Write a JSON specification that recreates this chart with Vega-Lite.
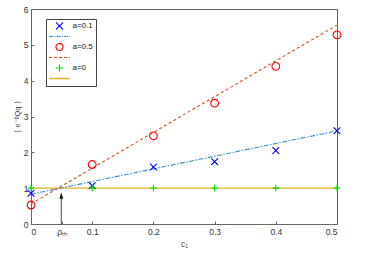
{
  "$schema": "https://vega.github.io/schema/vega-lite/v6.json",
  "width": 306,
  "height": 215,
  "autosize": "none",
  "padding": {"left": 31, "top": 9, "right": 33, "bottom": 43},
  "background": "white",
  "config": {
    "view": {"stroke": "#666"},
    "axis": {
      "grid": false,
      "domainColor": "#666",
      "tickColor": "#666",
      "tickSize": -3,
      "labelColor": "#333",
      "labelFont": "Liberation Sans",
      "labelFontSize": 8.5,
      "titleFont": "Liberation Sans",
      "titleFontSize": 8.5,
      "titleFontWeight": "normal",
      "titleColor": "#444"
    },
    "legend": {
      "labelFont": "Liberation Sans",
      "labelFontSize": 8,
      "labelColor": "#222"
    }
  },
  "datasets": {
    "pts": [
      {"c": 0, "v": 0.86, "leg": "a=0.1"},
      {"c": 0.1, "v": 1.07, "leg": "a=0.1"},
      {"c": 0.2, "v": 1.59, "leg": "a=0.1"},
      {"c": 0.3, "v": 1.74, "leg": "a=0.1"},
      {"c": 0.4, "v": 2.05, "leg": "a=0.1"},
      {"c": 0.5, "v": 2.6, "leg": "a=0.1"},
      {"c": 0, "v": 0.53, "leg": "a=0.5"},
      {"c": 0.1, "v": 1.66, "leg": "a=0.5"},
      {"c": 0.2, "v": 2.46, "leg": "a=0.5"},
      {"c": 0.3, "v": 3.37, "leg": "a=0.5"},
      {"c": 0.4, "v": 4.4, "leg": "a=0.5"},
      {"c": 0.5, "v": 5.28, "leg": "a=0.5"},
      {"c": 0, "v": 1, "leg": "a=0"},
      {"c": 0.1, "v": 1, "leg": "a=0"},
      {"c": 0.2, "v": 1, "leg": "a=0"},
      {"c": 0.3, "v": 1, "leg": "a=0"},
      {"c": 0.4, "v": 1, "leg": "a=0"},
      {"c": 0.5, "v": 1, "leg": "a=0"}
    ],
    "fits": [
      {"c": 0, "v": 1, "leg": "L3"},
      {"c": 0.5, "v": 1, "leg": "L3"},
      {"c": 0, "v": 0.83, "leg": "L1"},
      {"c": 0.5, "v": 2.6, "leg": "L1"},
      {"c": 0, "v": 0.56, "leg": "L2"},
      {"c": 0.5, "v": 5.55, "leg": "L2"}
    ],
    "arrow": [
      {"c": 0.0495, "v0": 0, "v1": 0.78}
    ]
  },
  "encoding": {
    "x": {"field": "c", "type": "quantitative", "scale": {"domain": [0, 0.5]},
      "axis": {"orient": "bottom", "title": "c₁", "values": [0, 0.05, 0.1, 0.2, 0.3, 0.4, 0.5],
        "labelExpr": "datum.value === 0.05 ? 'ρₜₕ' : format(datum.value, '.1~f')",
        "labelPadding": 6, "titlePadding": 4}},
    "y": {"field": "v", "type": "quantitative", "scale": {"domain": [0, 6]},
      "axis": {"orient": "left", "title": "⟨ e⁻ᵝQq ⟩", "values": [0, 1, 2, 3, 4, 5, 6], "labelPadding": 6, "titlePadding": 2, "titleFontSize": 7.5}}
  },
  "layer": [
    {
      "data": {"name": "fits"},
      "transform": [{"filter": "datum.leg === 'L3'"}],
      "mark": {"type": "line", "strokeWidth": 1.3},
      "encoding": {
        "color": {"field": "leg", "type": "nominal",
          "scale": {"domain": ["a=0.1", "L1", "a=0.5", "L2", "a=0", "L3"],
            "range": ["#0000ff", "#3a8fd0", "#ff0000", "#d95319", "#00e000", "#edb120"]}}
      }
    },
    {
      "data": {"name": "fits"},
      "transform": [{"filter": "datum.leg === 'L1'"}],
      "mark": {"type": "line", "strokeWidth": 1.1, "strokeDash": [5, 1.5, 1.5, 1.5]},
      "encoding": {
        "color": {"field": "leg", "type": "nominal"}
      }
    },
    {
      "data": {"name": "fits"},
      "transform": [{"filter": "datum.leg === 'L2'"}],
      "mark": {"type": "line", "strokeWidth": 1.1, "strokeDash": [3, 2.5]},
      "encoding": {
        "color": {"field": "leg", "type": "nominal"}
      }
    },
    {
      "data": {"name": "arrow"},
      "mark": {"type": "rule", "color": "#222", "strokeWidth": 0.8},
      "encoding": {
        "y": {"field": "v0", "type": "quantitative"},
        "y2": {"field": "v1"}
      }
    },
    {
      "data": {"name": "arrow"},
      "mark": {"type": "point", "shape": "M-0.7,1L0,-1.3L0.7,1Z", "filled": true, "color": "#111", "size": 30, "opacity": 1},
      "encoding": {
        "y": {"field": "v1", "type": "quantitative"}
      }
    },
    {
      "data": {"name": "pts"},
      "mark": {"type": "point", "filled": false, "strokeWidth": 1.1, "opacity": 1},
      "encoding": {
        "color": {"field": "leg", "type": "nominal",
          "legend": {
            "title": null, "orient": "none", "legendX": 15, "legendY": 10,
            "padding": 3, "strokeColor": "#444", "fillColor": "white",
            "symbolSize": 49, "symbolOffset": 6.5, "labelOffset": 9, "rowPadding": 0.5,
            "symbolDash": {"expr": "datum.value === 'L2' ? [3,2] : datum.value === 'L1' ? [4,1.2,1.2,1.2] : [1,0]"},
            "symbolStrokeWidth": {"expr": "datum.value === 'L3' ? 1.6 : 1.1"},
            "labelExpr": "datum.label[0] === 'L' ? '' : datum.label"
          }},
        "shape": {"field": "leg", "type": "nominal",
          "scale": {"domain": ["a=0.1", "L1", "a=0.5", "L2", "a=0", "L3"],
            "range": ["M-1,-1L1,1M-1,1L1,-1", "M-3,0L3,0", "circle", "M-3,0L3,0", "M-1,0L1,0M0,-1L0,1", "M-3,0L3,0"]}},
        "size": {"condition": {"test": "datum.leg === 'a=0.5'", "value": 60}, "value": 45}
      }
    }
  ]
}
